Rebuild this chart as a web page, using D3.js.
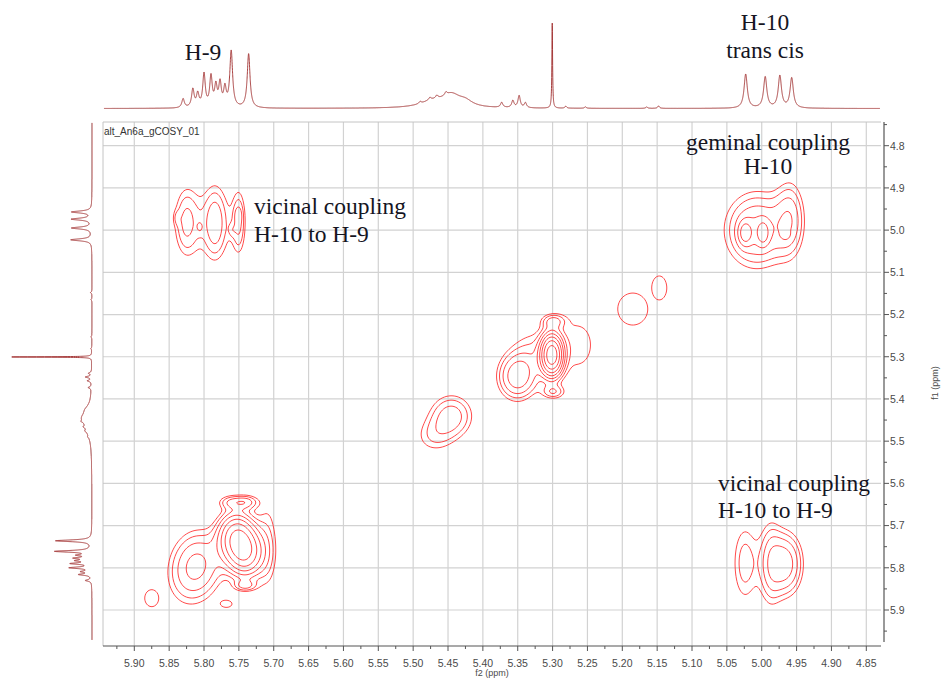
<!DOCTYPE html>
<html><head><meta charset="utf-8">
<script src="https://cdn.jsdelivr.net/npm/d3@7"></script>
<style>body{margin:0;background:#fff}svg{display:block}</style>
</head><body>
<svg id="c" width="946" height="680"></svg>
<script>
// ---------------- data ----------------
const xTicks = [5.90,5.85,5.80,5.75,5.70,5.65,5.60,5.55,5.50,5.45,5.40,5.35,5.30,5.25,5.20,5.15,5.10,5.05,5.00,4.95,4.90,4.85];
const yTicks = [4.8,4.9,5.0,5.1,5.2,5.3,5.4,5.5,5.6,5.7,5.8,5.9];
const xTickLabels = xTicks.map(v => v.toFixed(2));
const yTickLabels = yTicks.map(v => v.toFixed(1));

// 1H projection peaks: [shift ppm, top height, left height, half width ppm]
const protonPeaks = [
  [5.830, 9, 6, 0.0022], [5.816, 18, 12, 0.0022], [5.809, 13, 9, 0.0022],
  [5.800, 33, 21, 0.0022], [5.790, 30, 19, 0.0022], [5.783, 20, 13, 0.0022],
  [5.777, 23, 15, 0.0022], [5.770, 18, 12, 0.0022], [5.761, 56, 36, 0.0024],
  [5.736, 54, 36, 0.0024],
  [5.472, 6, 4, 0.022], [5.445, 12, 8, 0.016], [5.425, 5, 3.5, 0.012],
  [5.490, 2, 1, 0.002], [5.476, 2.5, 1.5, 0.002], [5.466, 3, 2, 0.002], [5.453, 3, 2, 0.002],
  [5.373, 5, 3, 0.002], [5.357, 7, 4, 0.002], [5.348, 12, 6, 0.002], [5.339, 5, 3, 0.002],
  [5.3005, 85, 80, 0.0006],
  [5.281, 2, 1, 0.0015], [5.253, 1.5, 1, 0.0015], [5.165, 1.5, 1, 0.0015], [5.148, 2.5, 1.5, 0.0015],
  [5.023, 34, 21, 0.0028], [4.995, 31, 20, 0.0028], [4.974, 32, 20, 0.0028], [4.957, 30, 20, 0.0028]
];

// COSY peaks: [signal, f2 ppm, f1 ppm, width f2 ppm, width f1 ppm, amplitude]
const crossPeaks = [
  // H-10 -> H-9 (top left)
  ['A', 5.791, 4.983, 0.0316, 0.0711, 1.2],
  ['A', 5.826, 4.981, 0.0115, 0.0569, 1.6], ['A', 5.784, 4.983, 0.0100, 0.0569, 1.5], ['A', 5.750, 4.981, 0.0065, 0.0521, 1.7],
  ['A', 5.839, 4.971, 0.0036, 0.0118, 0.6], ['A', 5.806, 4.993, 0.0036, 0.0118, 0.6],
  ['A', 5.760, 5.000, 0.0036, 0.0118, 0.6], ['A', 5.751, 4.964, 0.0036, 0.0118, 0.6],
  // geminal H-10
  ['B', 5.007, 5.000, 0.0316, 0.0616, 3.0],
  ['B', 5.024, 5.007, 0.0065, 0.0190, 2.5], ['B', 4.998, 5.007, 0.0057, 0.0190, 2.3],
  ['B', 4.959, 4.971, 0.0143, 0.0616, 2.0], ['B', 4.966, 5.012, 0.0043, 0.0071, 0.8],
  // H-10 -> H-9 (bottom right)
  ['C', 5.024, 5.789, 0.0140, 0.0721, 1.68], ['C', 4.988, 5.789, 0.0113, 0.0744, 1.68], ['C', 4.966, 5.791, 0.0167, 0.0506, 3.29],
  // H-9 diagonal
  ['D', 5.754, 5.727, 0.0164, 0.0368, 6.45], ['D', 5.740, 5.765, 0.0164, 0.0368, 6.45],
  ['D', 5.806, 5.787, 0.0242, 0.0544, 2.35], ['D', 5.826, 5.824, 0.0237, 0.0550, 1.2],
  ['D', 5.760, 5.644, 0.0140, 0.0116, 1.68], ['D', 5.738, 5.644, 0.0113, 0.0116, 1.68],
  ['D', 5.708, 5.746, 0.0119, 0.0980, 1.2], ['D', 5.741, 5.843, 0.0113, 0.0093, 1.68],
  ['D', 5.767, 5.886, 0.0094, 0.0098, 1.2],
  ['D2', 5.875, 5.872, 0.0166, 0.0333, 1.2],
  // diagonal 5.1 - 5.5
  ['E', 5.301, 5.296, 0.0095, 0.0295, 12.65], ['E', 5.299, 5.215, 0.0113, 0.0116, 1.68], ['E', 5.299, 5.384, 0.0113, 0.0116, 1.68],
  ['E', 5.351, 5.348, 0.0186, 0.0369, 3.29], ['E', 5.329, 5.289, 0.0237, 0.0470, 1.2], ['E', 5.263, 5.272, 0.0285, 0.0707, 1.2],
  ['F', 5.445, 5.440, 0.0219, 0.0362, 2.35], ['F', 5.471, 5.490, 0.0214, 0.0315, 1.2],
  ['G', 5.185, 5.187, 0.0356, 0.0627, 1.2],
  ['H', 5.147, 5.137, 0.0179, 0.0470, 1.2]
];
const levelRatio = 1.4;
const levelCount = 10;

// ---------------- layout ----------------
const svg = d3.select('#c');
const L = 103, R = 881, T = 122, B = 646;
const x = d3.scaleLinear().domain([5.90, 4.85]).range([134.3, 866.3]);
const y = d3.scaleLinear().domain([4.8, 5.9]).range([145.7, 610]);
const topY = d3.scaleLinear().domain([0, 100]).range([108.5, 8.5]);
const leftX = d3.scaleLinear().domain([0, 100]).range([92, -8]);

const specColor = '#9e2a2a', contourColor = '#ff2a2a', gridColor = '#d2d2d2';

// grid
const g = svg.append('g');
g.selectAll('.vg').data(xTicks).join('line')
  .attr('x1', d => x(d)).attr('x2', d => x(d)).attr('y1', T).attr('y2', B)
  .attr('stroke', gridColor).attr('stroke-width', 1.2);
g.selectAll('.hg').data(yTicks).join('line')
  .attr('x1', L).attr('x2', R).attr('y1', d => y(d)).attr('y2', d => y(d))
  .attr('stroke', gridColor).attr('stroke-width', 1.2);
g.append('line').attr('x1', L).attr('x2', R).attr('y1', T).attr('y2', T).attr('stroke', '#c4c4c4');
g.append('line').attr('x1', L).attr('x2', L).attr('y1', T).attr('y2', B).attr('stroke', '#c4c4c4');

// contours: sum of peaks within a signal, max across signals
const gw = R - L, gh = B - T;
const vals = new Float64Array(gw * gh);
const groups = d3.group(crossPeaks, d => d[0]);
for (const [, peaks] of groups) {
  const tmp = new Float64Array(gw * gh);
  let bi0 = gw, bi1 = 0, bj0 = gh, bj1 = 0;
  peaks.forEach(([, f2, f1, wx, wy, amp]) => {
    const cx = x(f2) - L, cy = y(f1) - T;
    const sx = Math.abs(x(f2 + wx) - x(f2)), sy = Math.abs(y(f1 + wy) - y(f1));
    const i0 = Math.max(0, Math.floor(cx - 4 * sx)), i1 = Math.min(gw - 1, Math.ceil(cx + 4 * sx));
    const j0 = Math.max(0, Math.floor(cy - 4 * sy)), j1 = Math.min(gh - 1, Math.ceil(cy + 4 * sy));
    bi0 = Math.min(bi0, i0); bi1 = Math.max(bi1, i1); bj0 = Math.min(bj0, j0); bj1 = Math.max(bj1, j1);
    for (let j = j0; j <= j1; j++) {
      const dy = (j - cy) / sy;
      for (let i = i0; i <= i1; i++) {
        const dx = (i - cx) / sx;
        tmp[j * gw + i] += amp * Math.exp(-0.5 * (dx * dx + dy * dy));
      }
    }
  });
  for (let j = bj0; j <= bj1; j++) for (let i = bi0; i <= bi1; i++) {
    const q = j * gw + i; if (tmp[q] > vals[q]) vals[q] = tmp[q];
  }
}
const levels = d3.range(levelCount).map(i => Math.pow(levelRatio, i));
const contours = d3.contours().size([gw, gh]).thresholds(levels)(vals);
const proj = d3.geoTransform({ point(px, py) { this.stream.point(L + px - 0.5, T + py - 0.5); } });
svg.append('g').selectAll('path').data(contours).join('path')
  .attr('d', d3.geoPath(proj)).attr('fill', 'none')
  .attr('stroke', contourColor).attr('stroke-width', 0.85);

// 1D spectra
function intensity(ppm, idx) {
  let s = 0;
  for (const p of protonPeaks) { const u = (ppm - p[0]) / p[3]; s += p[idx] / (1 + u * u); }
  return s;
}
const topPts = d3.range(5.9435, 4.8303, -0.0001).map(p => [x(p), topY(intensity(p, 1))]);
svg.append('path').attr('d', d3.line()(topPts)).attr('fill', 'none')
  .attr('stroke', specColor).attr('stroke-width', 0.9);
const leftPts = d3.range(4.746, 5.971, 0.0001).map(p => [leftX(intensity(p, 2)), y(p)]);
svg.append('path').attr('d', d3.line()(leftPts)).attr('fill', 'none')
  .attr('stroke', specColor).attr('stroke-width', 0.9);

// axes
const ax = svg.append('g').attr('font-family', '"Liberation Sans", Arial, sans-serif').attr('fill', '#4a4a4a');
ax.append('line').attr('x1', L).attr('x2', R).attr('y1', B).attr('y2', B).attr('stroke', '#555').attr('stroke-width', 1.2);
ax.append('line').attr('x1', 884).attr('x2', 884).attr('y1', T).attr('y2', 642).attr('stroke', '#555').attr('stroke-width', 1.2);
const xMinor = d3.range(5.925, 4.83, -0.05);
ax.selectAll('.xt').data(xTicks).join('line').attr('x1', d => x(d)).attr('x2', d => x(d))
  .attr('y1', B).attr('y2', B + 5).attr('stroke', '#555');
ax.selectAll('.xm').data(xMinor).join('line').attr('x1', d => x(d)).attr('x2', d => x(d))
  .attr('y1', B).attr('y2', B + 3).attr('stroke', '#555');
ax.selectAll('.xl').data(xTicks).join('text').attr('x', d => x(d)).attr('y', 666.5)
  .attr('text-anchor', 'middle').attr('font-size', 10.5).text((d, i) => xTickLabels[i]);
const yMinor = d3.range(4.75, 5.96, 0.1);
ax.selectAll('.yt').data(yTicks).join('line').attr('x1', 884).attr('x2', 889)
  .attr('y1', d => y(d)).attr('y2', d => y(d)).attr('stroke', '#555');
ax.selectAll('.ym').data(yMinor).join('line').attr('x1', 884).attr('x2', 887)
  .attr('y1', d => y(d)).attr('y2', d => y(d)).attr('stroke', '#555');
ax.selectAll('.yl').data(yTicks).join('text').attr('x', 890).attr('y', d => y(d) + 3.8)
  .attr('font-size', 10.5).text((d, i) => yTickLabels[i]);
ax.append('text').attr('x', 492).attr('y', 676).attr('text-anchor', 'middle').attr('font-size', 9).text('f2 (ppm)');
ax.append('text').attr('transform', 'translate(938,383) rotate(-90)').attr('text-anchor', 'middle')
  .attr('font-size', 9).text('f1 (ppm)');
ax.append('text').attr('x', 104).attr('y', 134.5).attr('font-size', 10).attr('fill', '#333').text('alt_An6a_gCOSY_01');

// annotations
const an = svg.append('g').attr('font-family', '"Liberation Serif", "Times New Roman", serif')
  .attr('fill', '#15151f').attr('font-size', 23.5);
an.append('text').attr('x', 203).attr('y', 60).attr('text-anchor', 'middle').text('H-9');
an.append('text').attr('x', 765).attr('y', 30).attr('text-anchor', 'middle').text('H-10');
an.append('text').attr('x', 765).attr('y', 58).attr('text-anchor', 'middle').text('trans cis');
an.append('text').attr('x', 254).attr('y', 213.5).text('vicinal coupling');
an.append('text').attr('x', 254).attr('y', 241.5).text('H-10 to H-9');
an.append('text').attr('x', 768).attr('y', 150).attr('text-anchor', 'middle').text('geminal coupling');
an.append('text').attr('x', 768).attr('y', 174).attr('text-anchor', 'middle').text('H-10');
an.append('text').attr('x', 718).attr('y', 491).text('vicinal coupling');
an.append('text').attr('x', 718).attr('y', 518).text('H-10 to H-9');
</script>
</body></html>
